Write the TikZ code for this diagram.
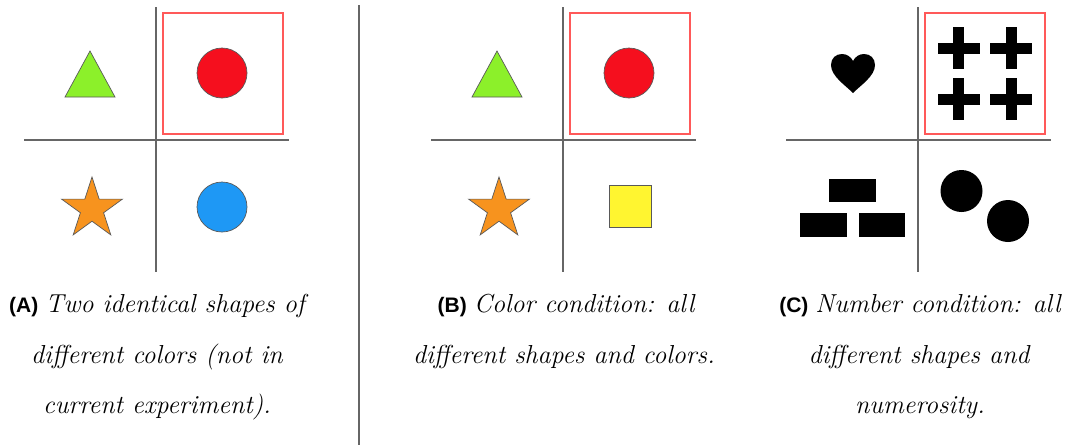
\documentclass[tikz,border=0pt]{standalone}
\usepackage{fontspec}
\newfontfamily\lab{Liberation Sans}
\newcommand\plab[1]{{\upshape\lab\bfseries\fontsize{21}{26}\selectfont (#1)}\hspace{7pt}}
\begin{document}
\begin{tikzpicture}[x=1pt,y=-1pt,
  grid/.style={draw=black!60,line width=1.2pt},
  redbox/.style={draw=red!65!white,line width=1.5pt},
  shp/.style={draw=black!65,line width=0.7pt},
  captxt/.style={anchor=base,inner sep=0pt,font=\fontsize{26}{30}\selectfont\itshape}]
\definecolor{cgreen}{HTML}{8CF02A}
\definecolor{cred}{HTML}{F50F1E}
\definecolor{corange}{HTML}{F7931E}
\definecolor{cblue}{HTML}{1E98F5}
\definecolor{cyellow}{HTML}{FFF530}
\useasboundingbox (0,0) rectangle (1072,445);
% ---- divider
\draw[grid] (359,5) -- (359,445);
% ---- panel A
\draw[grid] (156,7) -- (156,272);
\draw[grid] (24,140) -- (289,140);
\draw[redbox] (163,13) rectangle (283,134);
\draw[shp,fill=cgreen] (90,51) -- (115,97) -- (65,97) -- cycle;
\draw[shp,fill=cred] (222,73) circle (25);
\draw[shp,fill=corange] ({92+32*cos(-90)},{209+32*sin(-90)})
   -- ({92+12.2*cos(-54)},{209+12.2*sin(-54)})
   -- ({92+32*cos(-18)},{209+32*sin(-18)})
   -- ({92+12.2*cos(18)},{209+12.2*sin(18)})
   -- ({92+32*cos(54)},{209+32*sin(54)})
   -- ({92+12.2*cos(90)},{209+12.2*sin(90)})
   -- ({92+32*cos(126)},{209+32*sin(126)})
   -- ({92+12.2*cos(162)},{209+12.2*sin(162)})
   -- ({92+32*cos(198)},{209+32*sin(198)})
   -- ({92+12.2*cos(234)},{209+12.2*sin(234)}) -- cycle;
\draw[shp,fill=cblue] (222,207) circle (25);
% ---- panel B
\draw[grid] (563,7) -- (563,272);
\draw[grid] (431,140) -- (696,140);
\draw[redbox] (570,13) rectangle (690,134);
\draw[shp,fill=cgreen] (497,51) -- (522,97) -- (472,97) -- cycle;
\draw[shp,fill=cred] (629,73) circle (25);
\draw[shp,fill=corange] ({499+32*cos(-90)},{209+32*sin(-90)})
   -- ({499+12.2*cos(-54)},{209+12.2*sin(-54)})
   -- ({499+32*cos(-18)},{209+32*sin(-18)})
   -- ({499+12.2*cos(18)},{209+12.2*sin(18)})
   -- ({499+32*cos(54)},{209+32*sin(54)})
   -- ({499+12.2*cos(90)},{209+12.2*sin(90)})
   -- ({499+32*cos(126)},{209+32*sin(126)})
   -- ({499+12.2*cos(162)},{209+12.2*sin(162)})
   -- ({499+32*cos(198)},{209+32*sin(198)})
   -- ({499+12.2*cos(234)},{209+12.2*sin(234)}) -- cycle;
\draw[shp,fill=cyellow] (609,185) rectangle (651,227);
% ---- panel C
\draw[grid] (918,7) -- (918,272);
\draw[grid] (786,140) -- (1051,140);
\draw[redbox] (925,13) rectangle (1045,134);
\fill (853,93) .. controls (845,85) and (831,76) .. (831,65)
  .. controls (831,58) and (836,54) .. (842,54)
  .. controls (847,54) and (851,57) .. (853,61)
  .. controls (855,57) and (859,54) .. (864,54)
  .. controls (870,54) and (875,58) .. (875,65)
  .. controls (875,76) and (861,85) .. (853,93) -- cycle;
\foreach \cx/\cy in {958.5/48,1011/48,958.5/99,1011/99}{
  \fill (\cx-21,\cy-5.5) rectangle (\cx+21,\cy+5.5);
  \fill (\cx-5.5,\cy-21) rectangle (\cx+5.5,\cy+21);
}
\fill (829,179) rectangle (876,202);
\fill (800,213) rectangle (847,237);
\fill (859,213) rectangle (905,237);
\fill (961.5,191) circle (21);
\fill (1008,221) circle (21);
% ---- captions
\node[captxt] (a1) at (157,312) {\plab{A}Two identical shapes of};
\node[captxt] (a2) at (157,363) {different colors (not in};
\node[captxt] (a3) at (157,413) {current experiment).};
\node[captxt] (b1) at (566,312) {\plab{B}Color condition: all};
\node[captxt] (b2) at (564,363) {different shapes and colors.};
\node[captxt] (c1) at (920,312) {\plab{C}Number condition: all};
\node[captxt] (c2) at (919,363) {different shapes and};
\node[captxt] (c3) at (920,413) {numerosity.};
\end{tikzpicture}
\end{document}
